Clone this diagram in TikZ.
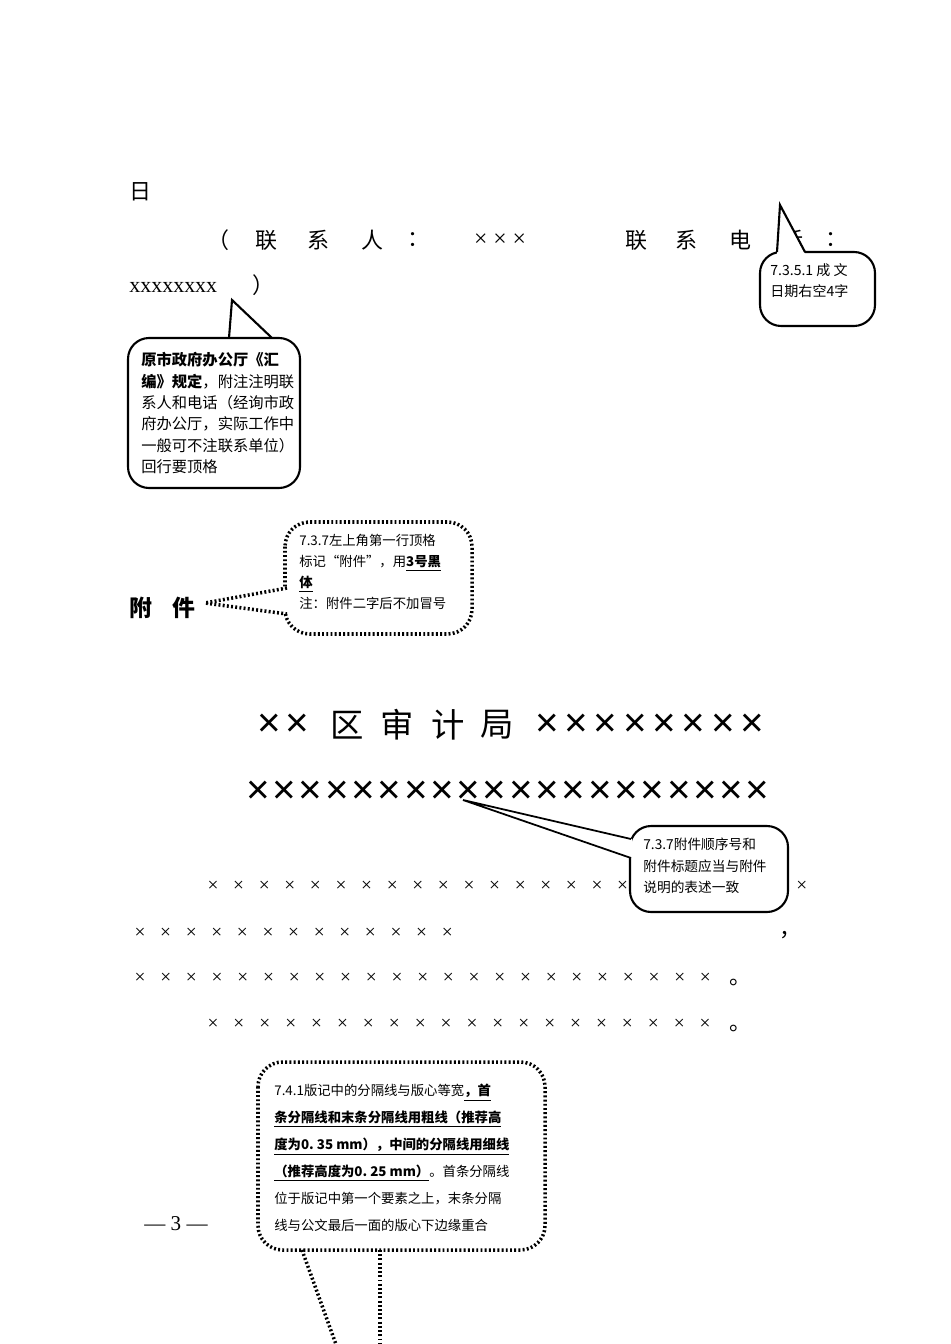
\documentclass[tikz,border=0pt]{standalone}
\usepackage{fontspec}
\setmainfont{Liberation Serif}
\newfontfamily\cjk{Noto Sans CJK SC}
\newfontfamily\arialfont{Liberation Sans}
\tikzset{
  body/.style={font=\cjk\fontsize{12.5}{14}\selectfont, inner sep=0pt},
  cross/.style={font=\fontsize{11}{12}\selectfont, inner sep=0pt},
  bigcross/.style={font=\arialfont\fontsize{23}{24}\selectfont, inner sep=0pt},
  title/.style={font=\cjk\fontsize{19}{22}\selectfont, inner sep=0pt},
  note/.style={font=\cjk\fontsize{7.6}{12}\selectfont, inner sep=0pt, align=left, anchor=north west},
  solidbox/.style={draw=black, line width=1.2pt, fill=white, rounded corners=12pt},
  dotbox/.style={draw=black, line width=2pt, dash pattern=on 1.1pt off 1.3pt, fill=white, rounded corners=14pt},
}
\begin{document}
\begin{tikzpicture}[x=0.02cm, y=-0.02cm]
    \useasboundingbox (0,0) rectangle (950,1344);

    % Closing lines
    \node (ri) [body] at (140,192) {日};
    \node (lp) [body] at (218,240) {（};
    \foreach \ch/\xx in {联/266, 系/318, 人/372, ：/418, 联/636, 系/686, 电/740, 话/792, ：/836}
        \node [body] at (\xx,240) {\ch};
    \node (who) [font=\fontsize{13.5}{14}\selectfont, inner sep=0pt] at (500,240) {× × ×};
    \node (tel) [font=\fontsize{12.5}{14}\selectfont, anchor=west, inner sep=0pt] at (129,287) {xxxxxxxx};
    \node (rp) [body] at (263,285) {）};

    % Callout on contact line
    \draw [solidbox] (128,338) rectangle (300,488);
    \fill [white] (229,336) -- (232,300) -- (272,336) -- cycle;
    \draw [line width=1.2pt] (229,338) -- (232,300) -- (272,338);
    \node (noteA) [note, font=\cjk\fontsize{8.7}{12.2}\selectfont] at (141,352)
        {\textbf{原市政府办公厅《汇}\\\textbf{编》规定}，附注注明联\\系人和电话（经询市政\\府办公厅，实际工作中\\一般可不注联系单位）\\回行要顶格};

    % Callout on date
    \draw [solidbox] (760,252) rectangle (875,326);
    \fill [white] (777,254) -- (780,205) -- (805,254) -- cycle;
    \draw [line width=1.2pt] (777,252) -- (780,205) -- (805,252);
    \node (noteB) [note, font=\cjk\fontsize{8}{12}\selectfont] at (770,263) {7.3.5.1 成 文\\日期右空4字};

    % Attachment mark
    \node (fj) [font=\cjk\bfseries\fontsize{13}{14}\selectfont, inner sep=0pt, anchor=west] at (129,608) {附\hspace{0.9em}件};
    \draw [dotbox] (285,522) rectangle (472,634);
    \fill [white] (289,588) -- (205,603) -- (289,614) -- cycle;
    \draw [line width=2pt, dash pattern=on 1.1pt off 1.3pt] (287,588) -- (205,603) -- (287,614);
    \node (noteC) [note] at (299,534)
        {7.3.7左上角第一行顶格\\标记“附件”，用\underline{\textbf{3号黑}}\\\underline{\textbf{体}}\\注：附件二字后不加冒号};

    % Title
    \foreach \xx in {269,297} \node [bigcross] at (\xx,725) {×};
    \foreach \ch/\xx in {区/347, 审/397, 计/448, 局/497}
        \node [title] at (\xx,725) {\ch};
    \foreach \k in {0,...,7} \node [bigcross] at (547+29.3*\k,725) {×};
    \foreach \k in {0,...,19} \node [bigcross] at (258+26.3*\k,792) {×};

    % Body rows
    \foreach \k in {0,...,16,23} \node [cross] at (213+25.6*\k,886) {×};
    \foreach \k in {0,...,12} \node [cross] at (140+25.6*\k,933) {×};
    \node [body] at (790,935) {，};
    \foreach \k in {0,...,22} \node [cross] at (140+25.7*\k,978) {×};
    \node [body] at (740,982) {。};
    \foreach \k in {0,...,19} \node [cross] at (213+25.9*\k,1024) {×};
    \node [body] at (740,1028) {。};

    % Callout on title
    \draw [solidbox] (630,826) rectangle (788,912);
    \fill [white] (632,839) -- (463,800) -- (632,858) -- cycle;
    \draw [line width=1pt] (631,839) -- (463,800) -- (631,858);
    \node (noteD) [note, font=\cjk\fontsize{7.8}{12}\selectfont] at (643,838) {7.3.7附件顺序号和\\附件标题应当与附件\\说明的表述一致};

    % Page number
    \node (pg) [font=\fontsize{12}{14}\selectfont, inner sep=0pt] at (176,1224) {— 3 —};

    % Callout on separator lines
    \draw [dotbox] (258,1062) rectangle (545,1250);
    \fill [white] (302,1252) -- (338,1350) -- (380,1350) -- (380,1252) -- cycle;
    \draw [line width=2pt, dash pattern=on 1.1pt off 1.3pt] (302,1250) -- (338,1350);
    \draw [line width=2pt, dash pattern=on 1.1pt off 1.3pt] (380,1250) -- (380,1350);
    \node (noteE) [note, font=\cjk\fontsize{7.6}{15.3}\selectfont] at (274,1084)
        {7.4.1版记中的分隔线与版心等宽\underline{\textbf{，首}}\\
         \underline{\textbf{条分隔线和末条分隔线用粗线（推荐高}}\\
         \underline{\textbf{度为0.\ 35 mm），中间的分隔线用细线}}\\
         \underline{\textbf{（推荐高度为0.\ 25 mm）}}。首条分隔线\\
         位于版记中第一个要素之上，末条分隔\\
         线与公文最后一面的版心下边缘重合};
\end{tikzpicture}
\end{document}
